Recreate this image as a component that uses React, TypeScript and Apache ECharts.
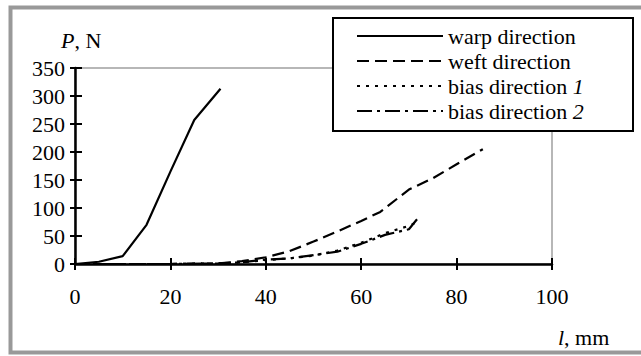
import React, { useEffect, useRef } from "react";
import * as echarts from "echarts";

const FONT = "'Liberation Serif', 'Times New Roman', serif";
const FS = 22;

const seriesNames = ["warp direction", "weft direction", "bias direction 1", "bias direction 2"];

const warpX = [0, 5, 10, 15, 20, 25, 30.5];
const warpY = [0, 4, 14, 70, 165, 257, 313];

const weftX = [0, 10, 20, 30, 35, 40, 45, 50, 55, 60, 64, 70, 75, 80, 85.5];
const weftY = [0, 0, 0, 1, 5, 12, 23, 40, 58, 77, 93, 133, 153, 178, 205];

const bias1X = [0, 10, 20, 30, 35, 40, 45, 50, 55, 60, 65, 70, 72];
const bias1Y = [0, 0, 0, 1, 3, 7, 10, 15, 24, 38, 55, 68, 76];

const bias2X = [0, 10, 20, 30, 35, 40, 45, 50, 55, 60, 65, 70, 72];
const bias2Y = [0, 0, 0, 1, 3, 8, 10, 16, 22, 36, 52, 62, 83];

const xTicks = [0, 20, 40, 60, 80, 100];
const yTicks = [0, 50, 100, 150, 200, 250, 300, 350];

const dashes: (number[] | "solid")[] = ["solid", [12, 6], [3, 6], [15, 5, 3, 5]];

const zip = (xs: number[], ys: number[]) => xs.map((x, i) => [x, ys[i]]);

export default function App() {
  const ref = useRef<HTMLDivElement>(null);
  useEffect(() => {
    document.body.style.margin = "0";
    const chart = echarts.init(ref.current!, null, { renderer: "svg" });
    const datasets = [zip(warpX, warpY), zip(weftX, weftY), zip(bias1X, bias1Y), zip(bias2X, bias2Y)];
    const xMin = xTicks[0];
    const xMax = xTicks[xTicks.length - 1];
    const yMin = yTicks[0];
    const yMax = yTicks[yTicks.length - 1];
    const xInt = xTicks[1] - xTicks[0];
    const yInt = yTicks[1] - yTicks[0];
    chart.setOption({
      animation: false,
      backgroundColor: "#fff",
      grid: {
        left: 75,
        right: 89,
        top: 68,
        bottom: 92,
        show: true,
        borderColor: "#a0a0a0",
        borderWidth: 1.5,
        backgroundColor: "transparent",
      },
      xAxis: [
        {
          type: "value",
          min: xMin,
          max: xMax,
          interval: xInt,
          position: "bottom",
          axisLine: { show: true, onZero: false, lineStyle: { color: "#000", width: 2.5 } },
          axisTick: { show: true, inside: false, length: 6, lineStyle: { color: "#000", width: 2 } },
          axisLabel: { color: "#000", fontFamily: FONT, fontSize: FS, margin: 21 },
          splitLine: { show: false },
        },
        {
          type: "value",
          min: xMin,
          max: xMax,
          interval: xInt,
          position: "bottom",
          axisLine: { show: false, onZero: false },
          axisTick: { show: true, inside: true, length: 6, lineStyle: { color: "#000", width: 2 } },
          axisLabel: { show: false },
          splitLine: { show: false },
        },
      ],
      yAxis: [
        {
          type: "value",
          min: yMin,
          max: yMax,
          interval: yInt,
          position: "left",
          axisLine: { show: true, onZero: false, lineStyle: { color: "#000", width: 2.5 } },
          axisTick: { show: true, inside: false, length: 5, lineStyle: { color: "#000", width: 2 } },
          axisLabel: { color: "#000", fontFamily: FONT, fontSize: FS, margin: 10 },
          splitLine: { show: false },
        },
        {
          type: "value",
          min: yMin,
          max: yMax,
          interval: yInt,
          position: "left",
          axisLine: { show: false, onZero: false },
          axisTick: { show: true, inside: true, length: 7, lineStyle: { color: "#000", width: 2 } },
          axisLabel: { show: false },
          splitLine: { show: false },
        },
      ],
      legend: {
        orient: "vertical",
        left: 356,
        top: 24,
        padding: 0,
        itemWidth: 86,
        itemHeight: 14,
        itemGap: 1,
        data: seriesNames,
        itemStyle: { opacity: 0 },
        textStyle: {
          color: "#000",
          fontFamily: FONT,
          fontSize: FS,
          lineHeight: 24,
          rich: {
            i: { fontStyle: "italic", fontFamily: FONT, fontSize: FS, color: "#000", lineHeight: 24 },
          },
        },
        formatter: (name: string) => name.replace(/ (\d)$/, " {i|$1}"),
        z: 10,
      },
      graphic: [
        {
          type: "rect",
          z: 5,
          shape: { x: 333, y: 18, width: 300, height: 113 },
          style: { fill: "#fff", stroke: "#000", lineWidth: 2 },
        },
        {
          type: "rect",
          z: 5,
          shape: { x: 10.5, y: 7.5, width: 640, height: 345 },
          style: { fill: "none", stroke: "#999", lineWidth: 4 },
        },
        {
          type: "text",
          z: 6,
          x: 61,
          y: 40,
          style: {
            text: "{i|P}, N",
            fill: "#000",
            fontFamily: FONT,
            fontSize: FS,
            verticalAlign: "middle",
            rich: { i: { fontStyle: "italic", fontFamily: FONT, fontSize: FS, fill: "#000" } },
          },
        },
        {
          type: "text",
          z: 6,
          x: 558,
          y: 337,
          style: {
            text: "{i|l}, mm",
            fill: "#000",
            fontFamily: FONT,
            fontSize: FS,
            verticalAlign: "middle",
            rich: { i: { fontStyle: "italic", fontFamily: FONT, fontSize: FS, fill: "#000" } },
          },
        },
      ],
      series: datasets.map((d, i) => ({
        type: "line",
        name: seriesNames[i],
        data: d,
        xAxisIndex: 0,
        yAxisIndex: 0,
        symbol: "none",
        clip: false,
        z: 3,
        lineStyle: { color: "#000", width: 2.2, type: dashes[i] },
        itemStyle: { color: "#000" },
      })),
    });
    return () => chart.dispose();
  }, []);
  return <div ref={ref} style={{ width: 641, height: 356 }} />;
}
